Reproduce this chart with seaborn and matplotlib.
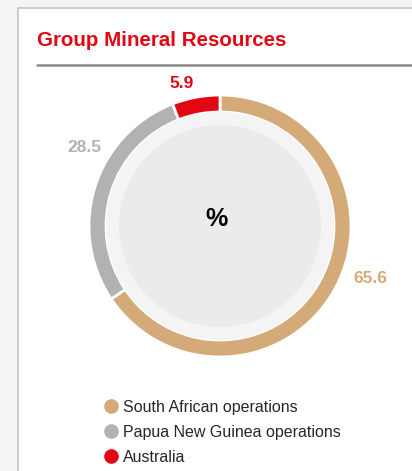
import matplotlib
matplotlib.use("Agg")
import matplotlib.pyplot as plt
import seaborn as sns
from matplotlib.patches import Circle, Rectangle
from matplotlib.lines import Line2D

# data
regions = ["South African operations", "Papua New Guinea operations", "Australia"]
shares = [65.6, 28.5, 5.9]
colors = ["#d4aa78", "#b2b2b2", "#e30613"]
# where each value label sits, in units of the donut radius
label_pos = [(1.145, -0.40), (-1.035, 0.60), (-0.29, 1.09)]

sns.set_theme(style="white")
plt.rcParams['font.family'] = ['Liberation Sans', 'DejaVu Sans']

W, H = 412, 471
fig = plt.figure(figsize=(W / 100, H / 100), dpi=100, facecolor="#f4f4f4")

# white panel with a thin grey border
bg = fig.add_axes([0, 0, 1, 1])
bg.set_xlim(0, W)
bg.set_ylim(H, 0)
bg.axis("off")
bg.add_patch(Rectangle((18, 8), W, H, facecolor="white", edgecolor="#c4c4c4", lw=1.2))
bg.text(37, 46, "Group Mineral Resources", color="#e30613", fontsize=14.8,
        fontweight="bold", ha="left", va="baseline")
bg.plot([37, W], [65, 65], color="#8a8a8a", lw=1.8)

# donut
cx, cy, r = 220, 226, 131
ax = fig.add_axes([(cx - r) / W, (H - cy - r) / H, 2 * r / W, 2 * r / H])
ax.pie(shares, colors=colors, startangle=90, counterclock=False, radius=1,
       wedgeprops=dict(width=17 / r, edgecolor="white", linewidth=2))
ax.add_patch(Circle((0, 0), 114 / r, facecolor="#f4f4f4", edgecolor="none"))
ax.add_patch(Circle((0, 0), 101 / r, facecolor="#ebebeb", edgecolor="none"))
ax.text(-0.03, 0.057, "%", ha="center", va="center", fontsize=18, fontweight="bold",
        color="black")
for v, c, (lx, ly) in zip(shares, colors, label_pos):
    ax.text(lx, ly, f"{v}", color=c, fontsize=12.5, fontweight="bold",
            ha="center", va="center", clip_on=False)
ax.set_xlim(-1, 1)
ax.set_ylim(-1, 1)
ax.set_aspect("equal")
ax.axis("off")

handles = [Line2D([], [], marker="o", ls="none", markersize=9.5, markerfacecolor=c,
                  markeredgecolor=c) for c in colors]
fig.legend(handles, regions, loc="upper left", bbox_to_anchor=(101 / W, 1 - 400 / H),
           frameon=False, fontsize=11.5, handletextpad=0.15, labelspacing=0.62,
           borderpad=0, borderaxespad=0, handlelength=1.2)

fig.savefig("out.png", dpi=100, facecolor=fig.get_facecolor())
